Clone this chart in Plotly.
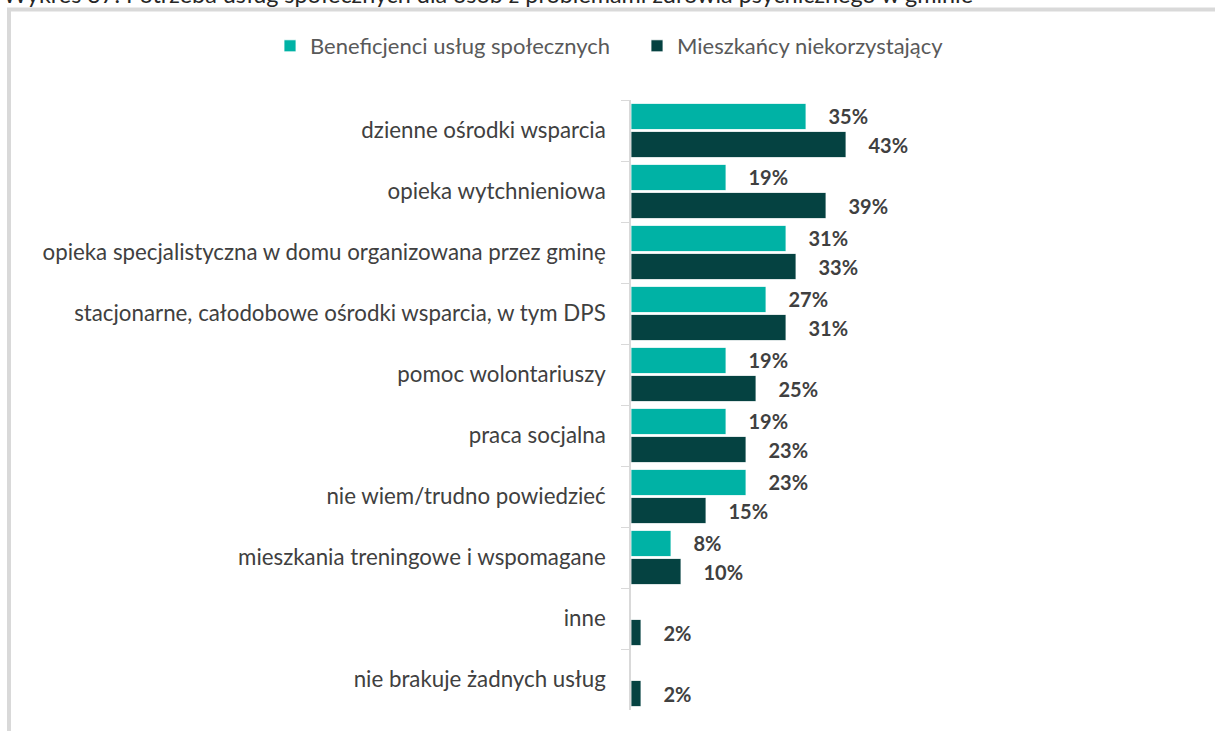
import plotly.graph_objects as go

categories = [
    "dzienne ośrodki wsparcia",
    "opieka wytchnieniowa",
    "opieka specjalistyczna w domu organizowana przez gminę",
    "stacjonarne, całodobowe ośrodki wsparcia, w tym DPS",
    "pomoc wolontariuszy",
    "praca socjalna",
    "nie wiem/trudno powiedzieć",
    "mieszkania treningowe i wspomagane",
    "inne",
    "nie brakuje żadnych usług",
]
beneficjenci = [35, 19, 31, 27, 19, 19, 23, 8, None, None]
mieszkancy = [43, 39, 33, 31, 25, 23, 15, 10, 2, 2]
series_names = ["Beneficjenci usług społecznych", "Mieszkańcy niekorzystający"]
title_text = "Wykres 37. Potrzeba usług społecznych dla osób z problemami zdrowia psychicznego w gminie"

C_TEAL = "#00B2A5"
C_DARK = "#054241"
FONT = "Lato"

W, H = 1215, 731
L, R, T, B = 631, 334, 100, 21
PW = W - L - R
PH = H - T - B


def px_x(p):
    return (p - L) / PW


def px_y(p):
    return (H - B - p) / PH


fig = go.Figure()
for name, vals, col in [(series_names[0], beneficjenci, C_TEAL), (series_names[1], mieszkancy, C_DARK)]:
    fig.add_trace(go.Bar(
        y=categories, x=vals, name=name, orientation="h",
        marker=dict(color=col, line=dict(color="rgba(255,255,255,0.8)", width=1)),
        texttemplate="\u00a0\u00a0\u00a0\u00a0%{x}%", textposition="outside",
        textfont=dict(family=FONT, size=20, color="#404040", weight="bold"),
        cliponaxis=False,
    ))

fig.update_layout(
    width=W, height=H,
    margin=dict(l=L, r=R, t=T, b=B, autoexpand=False),
    paper_bgcolor="white", plot_bgcolor="white",
    barmode="group", bargap=0.08, bargroupgap=0.07,
    font=dict(family=FONT, size=22, color="#404040"),
    showlegend=True,
    legend=dict(orientation="h", x=px_x(270), xanchor="left", y=px_y(46), yanchor="middle",
                font=dict(family=FONT, size=22, color="#595959"), traceorder="normal",
                itemwidth=30, entrywidth=322, bgcolor="rgba(0,0,0,0)"),
    xaxis=dict(range=[0, 50], visible=False, showgrid=False, zeroline=False),
    yaxis=dict(autorange="reversed", showline=True, linecolor="#D9D9D9", linewidth=1.5,
               ticks="outside", ticklen=8, tickcolor="#D9D9D9", tickson="boundaries",
               ticklabelstandoff=19, tickfont=dict(family=FONT, size=22.3, color="#404040"),
               showgrid=False, zeroline=False),
    shapes=[dict(type="rect", xref="paper", yref="paper",
                 x0=px_x(9), x1=px_x(1218), y0=px_y(745), y1=px_y(9.5),
                 line=dict(color="#D9D9D9", width=4), layer="below")],
    annotations=[dict(text=title_text, xref="paper", yref="paper", x=px_x(1), xanchor="left",
                      y=px_y(-6), yanchor="middle", showarrow=False,
                      font=dict(family=FONT, size=23.4, color="#262626"))],
)

fig.write_html("out.html", config={"displayModeBar": False},
               post_script="document.body.style.margin='0px';")
